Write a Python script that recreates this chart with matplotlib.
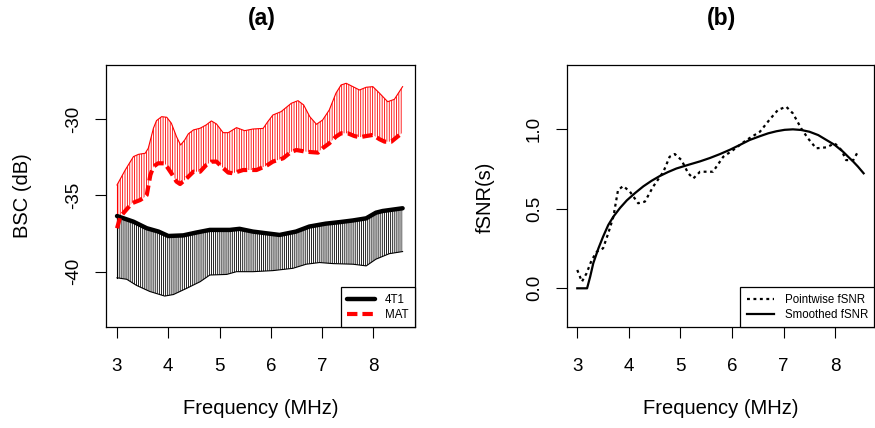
import numpy as np
import matplotlib
matplotlib.use("Agg")
import matplotlib.pyplot as plt

plt.rcParams['font.family'] = ['Liberation Sans', 'DejaVu Sans']
plt.rcParams['hatch.linewidth'] = 0.6
plt.rcParams['axes.unicode_minus'] = False

# ---- panel (a): BSC bands ----
f_mat_up = [3.0, 3.16, 3.32, 3.42, 3.55, 3.61, 3.71, 3.77, 3.87, 3.97, 4.06, 4.16, 4.24,
            4.32, 4.39, 4.49, 4.62, 4.74, 4.84, 4.94, 5.07, 5.17, 5.33, 5.49, 5.65, 5.85,
            5.94, 6.04, 6.20, 6.40, 6.53, 6.64, 6.76, 6.89, 7.01, 7.14, 7.27, 7.37, 7.47,
            7.60, 7.73, 7.86, 7.99, 8.12, 8.28, 8.41, 8.57]
mat_up = [-34.31, -33.33, -32.45, -32.30, -32.23, -31.90, -30.59, -30.09, -29.83, -29.87,
          -30.26, -31.14, -31.69, -31.36, -30.96, -30.70, -30.59, -30.37, -30.11, -30.31,
          -30.88, -30.88, -30.55, -30.75, -30.64, -30.60, -30.16, -29.72, -29.50, -28.95,
          -28.78, -29.06, -29.83, -30.33, -30.05, -29.39, -28.29, -27.75, -27.64, -27.86,
          -28.08, -27.90, -27.86, -28.29, -28.85, -28.69, -27.86]

f_mat_lo = [3.0, 3.065, 3.29, 3.45, 3.55, 3.58, 3.65, 3.71, 3.80, 3.93, 4.06, 4.16, 4.23,
            4.36, 4.49, 4.62, 4.74, 4.84, 4.94, 5.04, 5.17, 5.26, 5.46, 5.72, 5.91, 6.04,
            6.24, 6.40, 6.50, 6.69, 6.92, 7.01, 7.14, 7.27, 7.37, 7.50, 7.63, 7.73, 7.86,
            7.99, 8.12, 8.22, 8.35, 8.47, 8.57]
mat_lo = [-37.15, -36.39, -35.51, -35.30, -35.08, -34.97, -33.66, -33.11, -32.89, -32.89,
          -33.54, -34.09, -34.25, -33.87, -33.44, -33.44, -33.00, -32.78, -32.78, -33.11,
          -33.50, -33.54, -33.33, -33.33, -33.06, -32.78, -32.56, -32.13, -32.02, -32.13,
          -32.19, -31.90, -31.58, -31.14, -30.92, -30.92, -31.10, -31.18, -31.10, -31.03,
          -31.31, -31.47, -31.47, -31.14, -30.88]

f_t1_up = [3.0, 3.32, 3.58, 3.81, 4.0, 4.29, 4.55, 4.81, 5.20, 5.39, 5.65, 6.17, 6.49,
           6.75, 7.07, 7.34, 7.60, 7.86, 8.05, 8.18, 8.57]
t1_up = [-36.35, -36.72, -37.15, -37.37, -37.66, -37.62, -37.43, -37.26, -37.26, -37.19,
         -37.37, -37.59, -37.37, -37.04, -36.85, -36.75, -36.64, -36.5, -36.13, -36.02,
         -35.84]

f_t1_lo = [3.0, 3.19, 3.38, 3.64, 3.93, 4.10, 4.36, 4.62, 4.81, 5.14, 5.33, 5.65, 6.04,
           6.43, 6.69, 6.95, 7.21, 7.60, 7.86, 8.05, 8.31, 8.57]
t1_lo = [-40.4, -40.5, -40.9, -41.3, -41.6, -41.5, -41.09, -40.66, -40.22, -40.18, -40.0,
         -40.0, -39.93, -39.78, -39.51, -39.4, -39.47, -39.51, -39.62, -39.18, -38.82,
         -38.68]

# ---- panel (b): fSNR ----
f_point = [3.0, 3.09, 3.18, 3.28, 3.38, 3.50, 3.60, 3.70, 3.79, 3.89, 4.02, 4.18, 4.31,
           4.47, 4.67, 4.79, 4.89, 5.02, 5.15, 5.25, 5.38, 5.63, 5.83, 6.02, 6.28, 6.54,
           6.73, 6.89, 7.05, 7.18, 7.34, 7.47, 7.63, 7.83, 7.99, 8.12, 8.21, 8.35, 8.44]
snr_point = [0.115, 0.042, 0.094, 0.178, 0.23, 0.251, 0.345, 0.45, 0.617, 0.642, 0.607,
             0.534, 0.544, 0.638, 0.732, 0.826, 0.843, 0.805, 0.722, 0.69, 0.732, 0.732,
             0.826, 0.868, 0.931, 0.983, 1.06, 1.12, 1.14, 1.098, 1.004, 0.942, 0.879,
             0.885, 0.91, 0.868, 0.805, 0.805, 0.858]

f_smooth = [3.0, 3.19, 3.25, 3.31, 3.41, 3.50, 3.60, 3.70, 3.83, 3.96, 4.12, 4.28, 4.44,
            4.6, 4.76, 4.92, 5.15, 5.38, 5.57, 5.76, 5.96, 6.15, 6.34, 6.54, 6.70, 6.86,
            7.02, 7.18, 7.34, 7.50, 7.67, 7.83, 7.99, 8.15, 8.25, 8.35, 8.44, 8.55]
snr_smooth = [0.0, 0.0, 0.073, 0.157, 0.251, 0.324, 0.397, 0.45, 0.505, 0.552, 0.598,
              0.640, 0.675, 0.705, 0.730, 0.752, 0.775, 0.797, 0.818, 0.842, 0.870, 0.900,
              0.931, 0.955, 0.973, 0.986, 0.995, 0.998, 0.994, 0.983, 0.962, 0.931, 0.90,
              0.858, 0.826, 0.795, 0.764, 0.722]

W, H = 875, 428
fig = plt.figure(figsize=(W / 100, H / 100), dpi=100)

def px_axes(x0, x1, y0, y1):
    return fig.add_axes([x0 / W, 1 - y1 / H, (x1 - x0) / W, (y1 - y0) / H])

ax1 = px_axes(106, 415, 65, 327)
ax2 = px_axes(566.7, 874.3, 65, 327)

# hatched bands (polygon like R's polygon(density=, angle=90))
ax1.fill(np.concatenate([f_mat_up, f_mat_lo[::-1]]), np.concatenate([mat_up, mat_lo[::-1]]),
         facecolor='none', edgecolor='red', hatch='|' * 7, linewidth=0)
ax1.fill(np.concatenate([f_t1_up, f_t1_lo[::-1]]), np.concatenate([t1_up, t1_lo[::-1]]),
         facecolor='none', edgecolor='black', hatch='|' * 8, linewidth=0)
ax1.plot(f_mat_up, mat_up, color='red', lw=0.8)
ax1.plot(f_t1_lo, t1_lo, color='black', lw=0.8)
ax1.plot([f_mat_up[0], f_mat_lo[0]], [mat_up[0], mat_lo[0]], color='red', lw=0.8)
ax1.plot([f_t1_up[0], f_t1_lo[0]], [t1_up[0], t1_lo[0]], color='black', lw=0.8)
ax1.plot(f_t1_up, t1_up, color='black', lw=3.2, label='4T1', solid_capstyle='round')
ax1.plot(f_mat_lo, mat_lo, color='red', lw=3, ls=(0, (2.5, 1.2)), label='MAT')

ax1.set_xlim(2.785, 8.812)
ax1.set_ylim(-43.63, -26.44)
ax1.set_xticks([3, 4, 5, 6, 7, 8])
ax1.set_yticks([-40, -35, -30])

ax2.plot(f_point, snr_point, color='black', lw=1.6, ls=(0, (1.3, 1.6)), label='Pointwise fSNR')
ax2.plot(f_smooth, snr_smooth, color='black', lw=1.6, label='Smoothed fSNR')
ax2.set_xlim(2.795, 8.757)
ax2.set_ylim(-0.243, 1.402)
ax2.set_xticks([3, 4, 5, 6, 7, 8])
ax2.set_yticks([0.0, 0.5, 1.0])
ax2.set_yticklabels(['0.0', '0.5', '1.0'])

for ax in (ax1, ax2):
    ax.tick_params(axis='both', direction='out', length=8, width=0.8, labelsize=13.5, pad=14.5)
    ax.tick_params(axis='y', labelrotation=90, pad=9)
    for lab in ax.get_yticklabels():
        lab.set_va('center')
    for sp in ax.spines.values():
        sp.set_linewidth(0.9)
    leg = ax.legend(loc='lower right', borderaxespad=0, fancybox=False, edgecolor='black',
                    fontsize=8.3, handlelength=2.4, handletextpad=0.9, labelspacing=0.25,
                    borderpad=0.55, framealpha=1)
    leg.get_frame().set_linewidth(0.9)

fig.text(262 / W, 1 - 19 / H, '(a)', fontsize=16.5, fontweight='bold', ha='center', va='center')
fig.text(722 / W, 1 - 19 / H, '(b)', fontsize=16.5, fontweight='bold', ha='center', va='center')
fig.text(261 / W, 1 - 408 / H, 'Frequency (MHz)', fontsize=14.5, ha='center', va='center')
fig.text(721 / W, 1 - 408 / H, 'Frequency (MHz)', fontsize=14.5, ha='center', va='center')
fig.text(22 / W, 1 - 196 / H, 'BSC (dB)', fontsize=14.5, rotation=90, ha='center', va='center')
fig.text(485 / W, 1 - 197 / H, 'fSNR(s)', fontsize=14.5, rotation=90, ha='center', va='center')

fig.savefig('out.png', dpi=100)
